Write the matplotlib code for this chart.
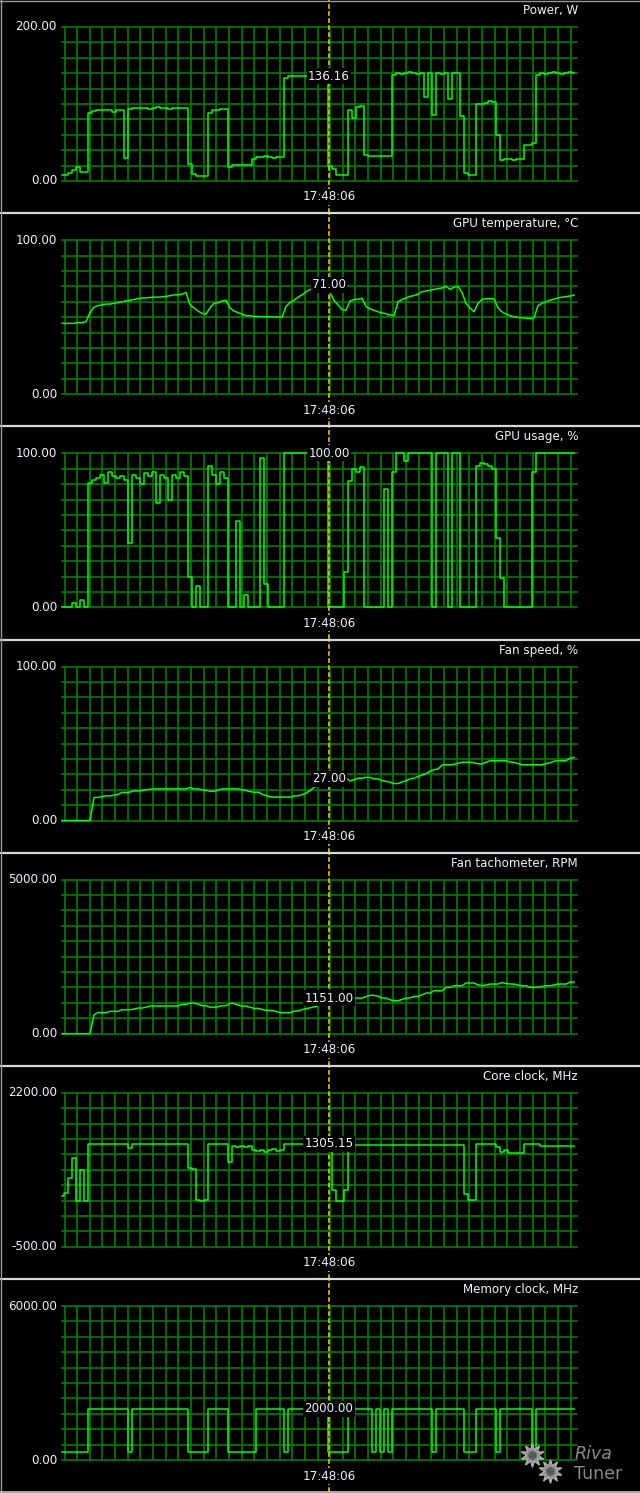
import numpy as np
import matplotlib
matplotlib.use('Agg')
import matplotlib.pyplot as plt
from matplotlib.lines import Line2D
from matplotlib.transforms import blended_transform_factory

# panel setup
titles = ['Power, W', 'GPU temperature, °C', 'GPU usage, %', 'Fan speed, %',
          'Fan tachometer, RPM', 'Core clock, MHz', 'Memory clock, MHz']
y_min = [0, 0, 0, 0, 0, -500, 0]
y_max = [200, 100, 100, 100, 5000, 2200, 6000]
cursor_text = ['136.16', '71.00', '100.00', '27.00', '1151.00', '1305.15', '2000.00']
cursor_value = [136.16, 71.0, 100.0, 27.0, 1151.0, 1305.15, 2000.0]
time_label = '17:48:06'
cursor_sample = 66.75

# one sample every ~4 px of the monitor window
power = [8, 8, 10, 14, 18, 12, 12, 88, 91, 92,
         92, 92, 92, 90, 92, 92, 30, 94, 95, 95,
         95, 95, 94, 95, 96, 95, 95, 94, 95, 95,
         95, 95, 22, 9, 7, 7, 7, 88, 92, 92,
         94, 94, 18, 21, 21, 21, 21, 21, 28, 31,
         31, 32, 31, 30, 31, 31, 134, 136, 137, 137,
         136, 137, 136, 136, 136, 136, 136, 20, 15, 8,
         8, 8, 92, 82, 96, 97, 34, 32, 32, 32,
         32, 32, 32, 138, 140, 139, 140, 141, 140, 139,
         140, 109, 140, 86, 140, 139, 140, 106, 140, 140,
         84, 10, 8, 8, 100, 100, 101, 104, 102, 60,
         27, 28, 28, 27, 28, 28, 47, 47, 50, 138,
         140, 139, 140, 141, 140, 139, 140, 141, 140]

gpu_temp = [46, 46, 46, 46, 46.5, 46.5, 47, 53, 56.5, 57.5,
            58, 58.5, 58.5, 59, 59.5, 60, 60.5, 61, 61.5, 62,
            62.5, 62.5, 62.8, 63, 63, 63.2, 63.5, 64, 64.5, 64.5,
            65, 66, 58, 56, 54, 52.5, 52, 56, 59, 59.5,
            60.5, 61, 56, 54, 53, 52, 51, 51, 50.5, 50.5,
            50.3, 50.3, 50.2, 50.2, 50.1, 50, 57, 59.5, 61, 63,
            64.5, 66.5, 68, 69, 70, 70.5, 71, 66, 61, 58,
            55, 54.5, 60.5, 61.5, 61.5, 62.3, 57, 55.5, 54.5, 53.5,
            52.8, 52.2, 51.5, 51, 60, 61.5, 62.5, 63.5, 64, 65,
            66.5, 67, 67.5, 68, 68.5, 69, 70, 68, 69.5, 70,
            66, 59, 56, 53.5, 59, 61.5, 62, 62, 62, 56,
            53.5, 52, 51, 50.3, 49.8, 49.6, 49.4, 49.2, 49.5, 57.5,
            59, 60, 61, 61.8, 62.5, 63, 63.3, 63.8, 64.3]

gpu_usage = [0, 0, 0.5, 3, 0, 5, 0, 81, 83, 84,
             86, 81, 88, 85, 84, 85, 83, 42, 86, 84,
             80, 87, 85, 88, 68, 86, 84, 70, 86, 84,
             88, 85, 20, 0, 14, 0, 0, 92, 86, 80,
             88, 84, 0, 0, 56, 0, 8, 0, 0, 0,
             97, 15, 0, 0, 0, 0, 100, 100, 100, 100,
             100, 100, 100, 100, 100, 100, 100, 0, 0, 0,
             0, 23, 82, 90, 88, 91, 0, 0, 0, 0,
             0, 77, 0, 88, 100, 100, 95, 100, 100, 100,
             100, 100, 100, 0, 100, 100, 100, 0, 100, 100,
             0, 0, 0, 0, 92, 94, 93, 92, 90, 45,
             19, 0, 0, 0, 0, 0, 0, 0, 88, 100,
             100, 100, 100, 100, 100, 100, 100, 100, 100]

fan_speed = [0, 0, 0, 0, 0, 0, 0, 0, 15, 15,
             15.5, 16, 16, 16.5, 17, 18.2, 18.2, 18.5, 19.2, 19.2,
             19.5, 20, 20.3, 20.5, 20.5, 20.5, 20.5, 20.5, 20.5, 20.5,
             20.5, 20.5, 21.5, 20.5, 20.5, 20, 19.6, 19, 19, 19.8,
             20.5, 20.5, 20.5, 20.5, 20.5, 20, 19.6, 18.8, 18.4, 18.4,
             17.2, 16.3, 15.5, 15.2, 15.2, 15.2, 15.2, 15.2, 16, 16,
             16.8, 17.7, 19.5, 21.5, 22.5, 24, 26, 27, 27.5, 27.5,
             27.5, 27.5, 25.8, 26.5, 27.5, 27.5, 28, 28, 27, 27,
             26, 25.4, 25, 24, 24, 25, 25.8, 27, 27.5, 28.5,
             29.6, 30.5, 32, 33, 33.5, 36, 36.2, 36.2, 36.5, 37.2,
             37.9, 37.9, 37.9, 37.5, 36.8, 36.8, 37.8, 38.8, 38.8, 38.8,
             38.8, 38.8, 38, 37.8, 37, 36.2, 36.2, 36.2, 36.2, 36.2,
             36.2, 37, 37.5, 38.5, 38.8, 38.8, 38.8, 40.5, 41]

fan_tach = [0, 0, 0, 0, 0, 0, 0, 0, 617, 682,
            682, 682, 725, 725, 725, 779, 779, 779, 800, 833,
            833, 860, 898, 898, 898, 898, 898, 898, 898, 898,
            952, 952, 990, 996, 960, 909, 909, 862, 862, 880,
            909, 909, 985, 985, 930, 898, 898, 860, 822, 822,
            790, 758, 758, 740, 700, 682, 682, 682, 736, 736,
            780, 810, 840, 870, 909, 1000, 1100, 1151, 1151, 1151,
            1151, 1151, 1158, 1158, 1158, 1158, 1200, 1245, 1245, 1220,
            1158, 1158, 1100, 1071, 1071, 1110, 1158, 1158, 1210, 1210,
            1260, 1319, 1319, 1396, 1396, 1396, 1504, 1504, 1558, 1558,
            1558, 1645, 1645, 1645, 1590, 1558, 1580, 1612, 1612, 1612,
            1660, 1630, 1612, 1612, 1580, 1558, 1558, 1504, 1504, 1504,
            1530, 1558, 1558, 1580, 1612, 1612, 1612, 1677, 1677]

core_clock = [400, 450, 700, 1050, 300, 850, 300, 1306, 1306, 1306,
              1306, 1306, 1306, 1306, 1306, 1306, 1306, 1240, 1306, 1306,
              1306, 1306, 1306, 1306, 1306, 1306, 1306, 1306, 1306, 1306,
              1306, 1306, 880, 870, 330, 300, 320, 1306, 1306, 1306,
              1306, 1306, 980, 1260, 1250, 1265, 1255, 1265, 1200, 1180,
              1200, 1170, 1190, 1210, 1180, 1200, 1306, 1306, 1306, 1306,
              1306, 1306, 1306, 1306, 1306, 1306, 1306, 1177, 500, 300,
              300, 500, 1200, 1290, 1285, 1280, 1290, 1285, 1282, 1288,
              1285, 1280, 1290, 1285, 1288, 1285, 1290, 1282, 1285, 1288,
              1285, 1290, 1285, 1282, 1288, 1285, 1290, 1285, 1288, 1285,
              1290, 420, 330, 320, 1306, 1306, 1306, 1306, 1306, 1250,
              1160, 1200, 1150, 1150, 1150, 1150, 1306, 1306, 1306, 1306,
              1275, 1275, 1275, 1275, 1275, 1275, 1275, 1275, 1275]

mem_clock = [300, 300, 300, 300, 300, 300, 300, 2000, 2000, 2000,
             2000, 2000, 2000, 2000, 2000, 2000, 2000, 300, 2000, 2000,
             2000, 2000, 2000, 2000, 2000, 2000, 2000, 2000, 2000, 2000,
             2000, 2000, 300, 300, 300, 300, 300, 2000, 2000, 2000,
             2000, 2000, 300, 300, 300, 300, 300, 300, 300, 2000,
             2000, 2000, 2000, 2000, 2000, 2000, 300, 2000, 2000, 2000,
             2000, 2000, 2000, 2000, 2000, 2000, 2000, 300, 300, 300,
             300, 300, 2000, 2000, 2000, 2000, 2000, 2000, 300, 2000,
             300, 2000, 300, 2000, 2000, 2000, 2000, 2000, 2000, 2000,
             2000, 2000, 2000, 300, 2000, 2000, 2000, 2000, 2000, 2000,
             2000, 300, 300, 300, 2000, 2000, 2000, 2000, 2000, 300,
             2000, 2000, 2000, 2000, 2000, 2000, 2000, 2000, 300, 2000,
             2000, 2000, 2000, 2000, 2000, 2000, 2000, 2000, 2000]

series = [power, gpu_temp, gpu_usage, fan_speed, fan_tach, core_clock, mem_clock]
stepped = [True, False, True, False, False, True, True]

W, H = 640, 1493
PANEL_H = 213.17
GRID_COL = '#007f00'
LINE_COL = '#00ff00'
TXT_COL = '#eef2fa'
CUR_COL = '#d8b800'
FS = 8.6

plt.rcParams['font.family'] = ['DejaVu Sans']
fig = plt.figure(figsize=(W / 100, H / 100), dpi=100, facecolor='black')

for k in range(7):
    top = 27 + PANEL_H * k
    ax = fig.add_axes([62 / W, 1 - (top + 154) / H, 515 / W, 154 / H])
    ax.set_facecolor('black')
    ax.set_xlim(0, 515 / 4)
    ax.set_ylim(y_min[k], y_max[k])
    ax.axis('off')

    for yv in np.linspace(y_min[k], y_max[k], 11):
        ax.axhline(yv, color=GRID_COL, lw=1.2, clip_on=False, zorder=1)
    for xv in (2.5 + 12.65 * np.arange(41)) / 4:
        ax.axvline(xv, color=GRID_COL, lw=1.2, zorder=1)

    s = series[k]
    x = np.arange(len(s))
    ax.plot(x, s, color=LINE_COL, lw=1.1, zorder=2, clip_on=False,
            drawstyle='steps-mid' if stepped[k] else 'default')

    # cursor through whole panel
    tr = blended_transform_factory(ax.transData, ax.transAxes)
    ax.plot([cursor_sample, cursor_sample], [-32 / 154, 181 / 154], transform=tr,
            color=CUR_COL, lw=1.3, dashes=(2.6, 1.3), clip_on=False, zorder=3)

    box = dict(boxstyle='square,pad=0.12', fc='black', ec='none')
    ax.text(cursor_sample, cursor_value[k], cursor_text[k], ha='center', va='center',
            color=TXT_COL, fontsize=FS, bbox=box, zorder=5)
    ax.text(cursor_sample, -16 / 154, time_label, transform=tr, ha='center', va='center',
            color=TXT_COL, fontsize=FS, bbox=box, zorder=5)
    ax.text(1.002, 1 + 16.5 / 154, titles[k], transform=ax.transAxes, ha='right',
            va='center', color=TXT_COL, fontsize=FS)
    ax.text(-5 / 515, 1, f'{y_max[k]:.2f}', transform=ax.transAxes, ha='right',
            va='center', color=TXT_COL, fontsize=FS)
    ax.text(-5 / 515, 0, f'{y_min[k]:.2f}', transform=ax.transAxes, ha='right',
            va='center', color=TXT_COL, fontsize=FS)

# panel separators and frame
for k in range(1, 7):
    yy = 1 - (PANEL_H * k) / H
    fig.add_artist(Line2D([0, 1], [yy, yy], transform=fig.transFigure,
                          color='#d8d8d8', lw=1.6))
fig.add_artist(Line2D([0.5 / W, 0.5 / W], [0, 1], transform=fig.transFigure,
                      color='#9a9a9a', lw=1.0))
fig.add_artist(Line2D([0, 1], [1 - 0.5 / H, 1 - 0.5 / H], transform=fig.transFigure,
                      color='#9a9a9a', lw=1.0))
fig.add_artist(Line2D([0, 1], [1.5 / H, 1.5 / H], transform=fig.transFigure,
                      color='#c8c8c8', lw=1.2))

# RivaTuner logo (rough)
for gx, gy in [(532, 1455), (550, 1471)]:
    fig.add_artist(Line2D([gx / W], [1 - gy / H], transform=fig.transFigure,
                          marker=(10, 1, 0), ms=17, color='#8c8c8c', mec='#b0b0b0', lw=0))
    fig.add_artist(Line2D([gx / W], [1 - gy / H], transform=fig.transFigure,
                          marker='o', ms=5, color='#5a5a5a', mec='#5a5a5a', lw=0))
fig.text(593 / W, 1 - 1454 / H, 'Riva', ha='center', va='center', color='#8a8a8a',
         fontsize=12.5, fontstyle='italic')
fig.text(598 / W, 1 - 1474 / H, 'Tuner', ha='center', va='center', color='#8a8a8a',
         fontsize=12.5)

fig.savefig('out.png', dpi=100, facecolor='black')
